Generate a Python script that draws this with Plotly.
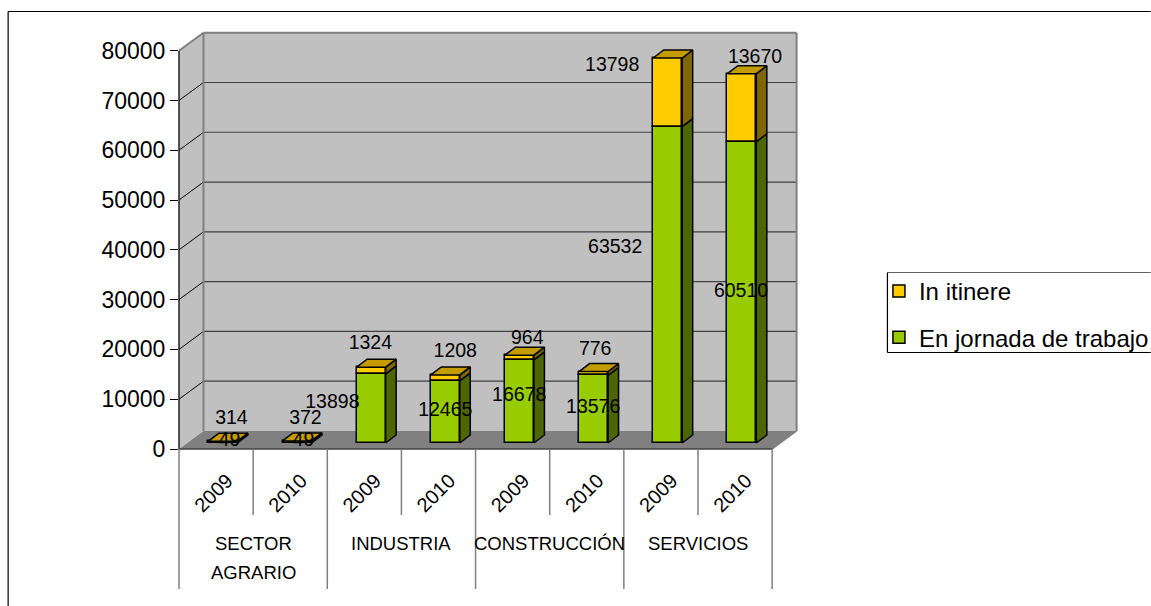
import plotly.graph_objects as go

# ---------- data ----------
groups = ["SECTOR<br>AGRARIO", "INDUSTRIA", "CONSTRUCCIÓN", "SERVICIOS"]
years = ["2009", "2010", "2009", "2010", "2009", "2010", "2009", "2010"]
en_jornada = [49, 49, 13898, 12465, 16678, 13576, 63532, 60510]
in_itinere = [314, 372, 1324, 1208, 964, 776, 13798, 13670]
y_ticks = [0, 10000, 20000, 30000, 40000, 50000, 60000, 70000, 80000]

# label centres, pixels on the page
jornada_label_px = [(229, 441), (303, 441), (332, 403), (445, 411), (519, 396), (593, 408), (615, 248), (741, 292)]
itinere_label_px = [(231, 419), (305, 419), (370, 344), (455, 352), (527, 339), (595, 350), (612, 66), (755, 58)]

# ---------- geometry ----------
W, H = 1151, 606
LEFT, BASE = 178.5, 449.0           # page pixels of x=0, value=0
UX = 74.2                           # pixels per category
UY = (449 - 50.7) / 80000           # pixels per value unit
TOP_PX, RIGHT_PX = 20.0, 810.0

WALL_DX = 24.5 / UX                 # chart depth
WALL_DY = 18.0 / UY
BAR_SHIFT = 6.8 / UX                # bar position inside depth
BAR_BASE = 6.0 / UY
BAR_W = 29.0 / UX
BAR_DX = 10.5 / UX                  # bar depth
BAR_DY = 8.0 / UY

GREEN, GREEN_SIDE = "#99CC00", "#4D6600"
YELLOW, YELLOW_SIDE, YELLOW_TOP = "#FFCC00", "#806600", "#C49C00"
WALL, FLOOR, EDGE = "#C0C0C0", "#808080", "#808080"
FONT = "Liberation Sans, Arial, sans-serif"

def data_x(px):
    return (px - LEFT) / UX

def data_y(py):
    return (BASE - py) / UY

def paper_y(py):
    # paper coordinates relative to plot area
    return (BASE - py) / (BASE - TOP_PX)

XMAX = data_x(RIGHT_PX)
YMAX = data_y(TOP_PX)
n = len(years)
centres = [i + 0.5 + BAR_SHIFT for i in range(n)]

fig = go.Figure()

# ---------- bars (front faces) ----------
fig.add_trace(go.Bar(
    name="In itinere", x=centres, y=in_itinere,
    base=[BAR_BASE + v for v in en_jornada], width=BAR_W,
    marker=dict(color=YELLOW, line=dict(color="black", width=1.5)),
    legendgroup="a", hoverinfo="skip"))
fig.add_trace(go.Bar(
    name="En jornada de trabajo", x=centres, y=en_jornada,
    base=[BAR_BASE] * n, width=BAR_W,
    marker=dict(color=GREEN, line=dict(color="black", width=1.5)),
    legendgroup="b", hoverinfo="skip"))

# ---------- bar sides and tops ----------
def side_polys(bottoms, tops):
    xs, ys = [], []
    for c, b, t in zip(centres, bottoms, tops):
        r = c + BAR_W / 2
        xs += [r, r + BAR_DX, r + BAR_DX, r, r, None]
        ys += [b, b + BAR_DY, t + BAR_DY, t, b, None]
    return xs, ys

bot_j = [BAR_BASE] * n
top_j = [BAR_BASE + v for v in en_jornada]
top_i = [a + b for a, b in zip(top_j, in_itinere)]

for (bs, ts, col) in [(bot_j, top_j, GREEN_SIDE), (top_j, top_i, YELLOW_SIDE)]:
    xs, ys = side_polys(bs, ts)
    fig.add_trace(go.Scatter(x=xs, y=ys, mode="lines", fill="toself", fillcolor=col,
                             line=dict(color="black", width=1.5), showlegend=False,
                             hoverinfo="skip", cliponaxis=False))
xs, ys = [], []
for c, t in zip(centres, top_i):
    l, r = c - BAR_W / 2, c + BAR_W / 2
    xs += [l, r, r + BAR_DX, l + BAR_DX, l, None]
    ys += [t, t, t + BAR_DY, t + BAR_DY, t, None]
fig.add_trace(go.Scatter(x=xs, y=ys, mode="lines", fill="toself", fillcolor=YELLOW_TOP,
                         line=dict(color="black", width=1.5), showlegend=False,
                         hoverinfo="skip", cliponaxis=False))

# ---------- data labels ----------
for vals, pos in [(en_jornada, jornada_label_px), (in_itinere, itinere_label_px)]:
    fig.add_trace(go.Scatter(
        x=[data_x(p[0]) for p in pos], y=[data_y(p[1]) for p in pos],
        text=[str(v) for v in vals], mode="text", textposition="middle center",
        textfont=dict(family=FONT, size=19.5, color="black"),
        showlegend=False, hoverinfo="skip", cliponaxis=False))

# ---------- walls / floor / grid ----------
def poly(pts):
    return "M" + " L".join(f"{x},{y}" for x, y in pts) + " Z"

shapes = []
def add_poly(pts, fill, line=None, width=0):
    shapes.append(dict(type="path", xref="x", yref="y", layer="below", path=poly(pts),
                       fillcolor=fill, line=dict(color=line or fill, width=width)))

def add_line(x0, y0, x1, y1, color, width, layer="below"):
    shapes.append(dict(type="line", xref="x", yref="y", layer=layer, x0=x0, y0=y0, x1=x1, y1=y1,
                       line=dict(color=color, width=width)))

def add_page_line(px0, py0, px1, py1, color, width, layer="above"):
    shapes.append(dict(type="line", xref="paper", yref="paper", layer=layer,
                       x0=(px0 - LEFT) / (RIGHT_PX - LEFT), x1=(px1 - LEFT) / (RIGHT_PX - LEFT),
                       y0=paper_y(py0), y1=paper_y(py1),
                       line=dict(color=color, width=width)))

top = y_ticks[-1]
add_poly([(WALL_DX, WALL_DY), (n + WALL_DX, WALL_DY), (n + WALL_DX, top + WALL_DY), (WALL_DX, top + WALL_DY)], WALL)
add_poly([(0, 0), (WALL_DX, WALL_DY), (WALL_DX, top + WALL_DY), (0, top)], WALL)
add_poly([(0, 0), (n, 0), (n + WALL_DX, WALL_DY), (WALL_DX, WALL_DY)], FLOOR)
for v in y_ticks[1:-1]:
    add_line(WALL_DX, v + WALL_DY, n + WALL_DX, v + WALL_DY, "#404040", 1.2)
    add_line(0, v, WALL_DX, v + WALL_DY, "black", 1)
add_line(WALL_DX, WALL_DY, WALL_DX, top + WALL_DY, EDGE, 2)
add_line(n + WALL_DX, WALL_DY, n + WALL_DX, top + WALL_DY, EDGE, 2)
add_line(WALL_DX, top + WALL_DY, n + WALL_DX, top + WALL_DY, EDGE, 2)
add_line(0, top, WALL_DX, top + WALL_DY, EDGE, 2)
add_line(n, 0, n + WALL_DX, WALL_DY, EDGE, 1.5)

# front axis lines
add_page_line(LEFT, BASE, LEFT, BASE - top * UY, "#202020", 1.5)
add_page_line(LEFT, BASE, LEFT + n * UX, BASE, "#404040", 1.5)

# multi-level category separators
for i in range(n + 1):
    bottom = 589 if i % 2 == 0 else 515
    add_page_line(LEFT + i * UX, BASE, LEFT + i * UX, bottom, "#808080", 1.5)

# chart-area frame and legend frame (page pixels)
add_page_line(7.5, 11.5, W, 11.5, "black", 1.2)
add_page_line(7.5, 11.5, 7.5, H, "black", 1.2)
add_page_line(887.5, 272.5, W, 272.5, "#606060", 1.2)
add_page_line(887.5, 352.5, W, 352.5, "black", 1.2)
add_page_line(887.5, 272.5, 887.5, 352.5, "black", 1.2)

# ---------- group labels (reference line pitch is wider than plotly's <br>) ----------
annotations = []
for i, g in enumerate(groups):
    for j, line in enumerate(g.split("<br>")):
        annotations.append(dict(
            text=line, x=2 * i + 1, y=paper_y(543 + 29 * j), xref="x", yref="paper",
            yanchor="middle", xanchor="center", showarrow=False,
            font=dict(family=FONT, size=18.5, color="black")))

fig.update_layout(
    width=W, height=H, autosize=False,
    margin=dict(l=LEFT, r=W - RIGHT_PX, t=TOP_PX, b=H - BASE, pad=0, autoexpand=False),
    paper_bgcolor="white", plot_bgcolor="white",
    barmode="overlay", bargap=0,
    shapes=shapes, annotations=annotations,
    font=dict(family=FONT, color="black"),
    legend=dict(x=(879 - LEFT) / (RIGHT_PX - LEFT), y=paper_y(269),
                xanchor="left", yanchor="top", traceorder="grouped", tracegroupgap=12,
                font=dict(family=FONT, size=24, color="black"), itemwidth=30,
                bgcolor="rgba(0,0,0,0)", borderwidth=0, itemclick=False, itemdoubleclick=False),
    xaxis=dict(range=[0, XMAX], tickmode="array", tickvals=[i + 0.5 for i in range(n)], ticktext=years,
               tickangle=-45, ticks="", showgrid=False, zeroline=False, showline=False,
               tickfont=dict(family=FONT, size=20, color="black"),
               ticklabelstandoff=15, ticklabelshift=11),
    yaxis=dict(range=[0, YMAX], tickmode="array", tickvals=y_ticks, ticks="outside", ticklen=8, tickwidth=1.2,
               tickcolor="black", showgrid=False, zeroline=False, showline=False,
               tickfont=dict(family=FONT, size=23, color="black"), tickformat="d"),
)

fig.write_html("out.html", config={"displayModeBar": False},
               post_script="document.body.style.margin='0';document.documentElement.style.overflow='hidden';")
